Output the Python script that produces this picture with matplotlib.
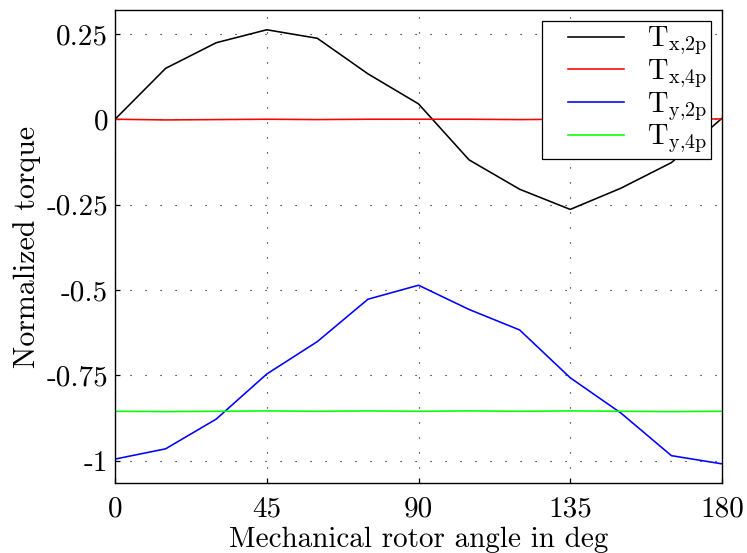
import matplotlib
matplotlib.use("Agg")
import matplotlib.pyplot as plt
from matplotlib.legend_handler import HandlerLine2D

plt.rcParams["font.family"] = ["cmr10", "DejaVu Serif"]
plt.rcParams["mathtext.fontset"] = "cm"
plt.rcParams["axes.unicode_minus"] = False
plt.rcParams["lines.scale_dashes"] = False

angle = [0, 15, 30, 45, 60, 75, 90, 105, 120, 135, 150, 165, 180]
tx_2p = [0.0, 0.149, 0.224, 0.262, 0.237, 0.133, 0.045, -0.119, -0.205,
         -0.264, -0.202, -0.127, 0.003]
tx_4p = [0.0, -0.002, -0.001, 0.0, -0.001, 0.0, 0.0, 0.0, -0.001,
         0.0, 0.0, 0.0, 0.001]
ty_2p = [-0.995, -0.965, -0.878, -0.746, -0.651, -0.527, -0.486, -0.557,
         -0.617, -0.757, -0.860, -0.985, -1.009]
ty_4p = [-0.855, -0.856, -0.855, -0.854, -0.855, -0.854, -0.855, -0.854,
         -0.855, -0.854, -0.855, -0.856, -0.855]

x_ticks = [0, 45, 90, 135, 180]
y_ticks = [0.25, 0, -0.25, -0.5, -0.75, -1]
y_tick_labels = ["0.25", "0", "-0.25", "-0.5", "-0.75", "-1"]


class InsetLine(HandlerLine2D):
    """Legend line that starts some way into the handle box."""

    def __init__(self, frac=0.28, **kw):
        super().__init__(**kw)
        self.frac = frac

    def create_artists(self, legend, orig_handle, xdescent, ydescent,
                       width, height, fontsize, trans):
        shift = self.frac * width
        return super().create_artists(legend, orig_handle, xdescent - shift,
                                      ydescent, width - shift, height,
                                      fontsize, trans)


fig = plt.figure(figsize=(7.47, 5.53), dpi=100)
ax = fig.add_axes([0.154, 0.126, 0.8125, 0.856])

lw = 1.15
ax.plot(angle, tx_2p, color="black", lw=lw, label=r"$\mathrm{T}_{\mathrm{x{,}2p}}$")
ax.plot(angle, tx_4p, color="#ff0000", lw=lw, label=r"$\mathrm{T}_{\mathrm{x{,}4p}}$")
ax.plot(angle, ty_2p, color="#0000ff", lw=lw, label=r"$\mathrm{T}_{\mathrm{y{,}2p}}$")
ax.plot(angle, ty_4p, color="#00ff00", lw=lw, label=r"$\mathrm{T}_{\mathrm{y{,}4p}}$")

ax.set_xlim(0, 180)
ax.set_ylim(-1.066, 0.32)
ax.set_xticks(x_ticks)
ax.set_xticklabels([str(v) for v in x_ticks])
ax.set_yticks(y_ticks)
ax.set_yticklabels(y_tick_labels)

ax.grid(True, color="black", linestyle=(0, (0.8, 10.0)), linewidth=0.8)
ax.tick_params(direction="in", length=3.8, width=0.9, labelsize=21,
               top=False, right=False)
ax.tick_params(axis="x", pad=9)
ax.tick_params(axis="y", pad=5)
for s in ax.spines.values():
    s.set_linewidth(1.0)

ax.set_xlabel("Mechanical rotor angle in deg", fontsize=21, labelpad=3)
ax.set_ylabel("Normalized torque", fontsize=21.5, labelpad=4)

leg = ax.legend(loc="upper right", fontsize=20.5, frameon=True, fancybox=False,
                edgecolor="black", framealpha=1, borderaxespad=0.4,
                handlelength=2.75, handletextpad=0.8, labelspacing=0.0,
                borderpad=0.12,
                handler_map={matplotlib.lines.Line2D: InsetLine()})
leg.get_frame().set_linewidth(0.9)

fig.savefig("out.png", dpi=100)
